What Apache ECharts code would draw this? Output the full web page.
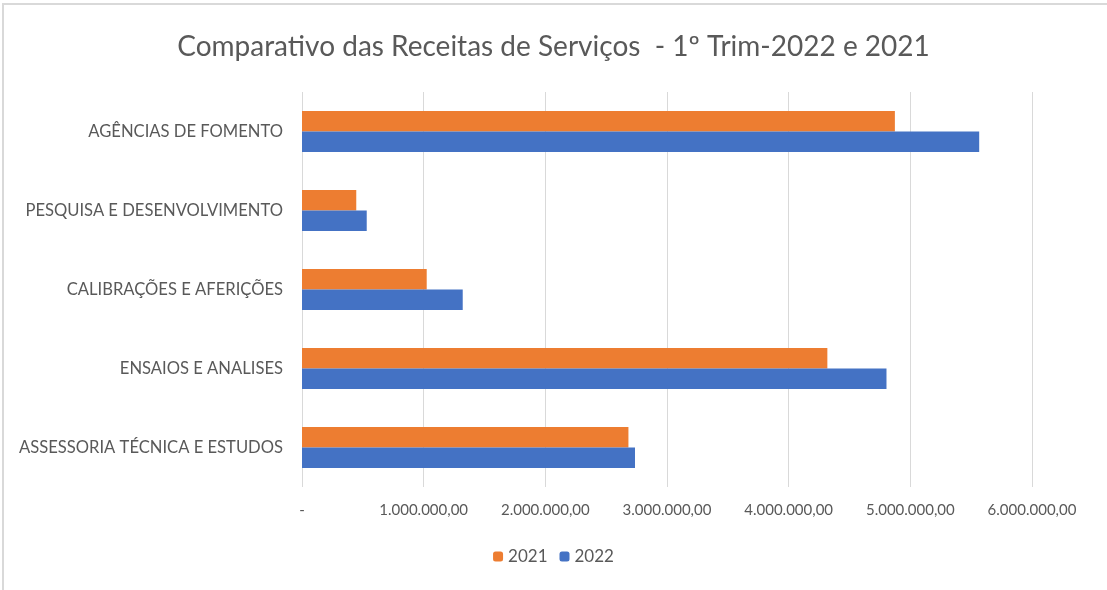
<!DOCTYPE html>
<html>
<head>
<meta charset="utf-8">
<script src="https://cdn.jsdelivr.net/npm/echarts@6/dist/echarts.min.js"></script>
<style>
html, body { margin: 0; padding: 0; background: #fff; }
#chart { width: 1107px; height: 590px; }
</style>
</head>
<body>
<div id="chart"></div>
<script>
var categories = ['ASSESSORIA TÉCNICA E ESTUDOS', 'ENSAIOS E ANALISES', 'CALIBRAÇÕES E AFERIÇÕES', 'PESQUISA E DESENVOLVIMENTO', 'AGÊNCIAS DE FOMENTO'];
var values2021 = [2683000, 4318000, 1025000, 446000, 4873000];
var values2022 = [2737000, 4804000, 1321000, 532000, 5566000];

var fontName = "Lato, sans-serif";

function fmt(v) {
    if (v === 0) return '-';
    var s = String(Math.round(v));
    s = s.replace(/\B(?=(\d{3})+(?!\d))/g, '.');
    return s + ',00';
}

var myChart = echarts.init(document.getElementById('chart'));
var option = {
    title: {
        text: 'Comparativo das Receitas de Serviços  - 1º Trim-2022 e 2021',
        left: 'center',
        top: 28,
        textStyle: {
            color: '#595959',
            fontFamily: fontName,
            fontSize: 28,
            fontWeight: 'normal'
        }
    },
    legend: {
        data: ['2021', '2022'],
        bottom: 20,
        left: 'center',
        itemWidth: 10,
        itemHeight: 10,
        itemGap: 12,
        textStyle: { color: '#595959', fontFamily: fontName, fontSize: 17 }
    },
    grid: {
        left: 302,
        right: 75,
        top: 92,
        height: 395
    },
    xAxis: {
        type: 'value',
        min: 0,
        max: 6000000,
        interval: 1000000,
        axisLine: { show: false },
        axisTick: { show: false },
        splitLine: { lineStyle: { color: '#d9d9d9', width: 1 } },
        axisLabel: {
            formatter: fmt,
            color: '#595959',
            fontFamily: fontName,
            fontSize: 15,
            margin: 16
        }
    },
    yAxis: {
        type: 'category',
        data: categories,
        axisLine: { show: false },
        axisTick: { show: false },
        axisLabel: {
            color: '#595959',
            fontFamily: fontName,
            fontSize: 16.6,
            margin: 19
        }
    },
    series: [
        {
            name: '2021',
            type: 'bar',
            data: values2021,
            barGap: '0%',
            barCategoryGap: '48%',
            itemStyle: { color: '#ED7D31' }
        },
        {
            name: '2022',
            type: 'bar',
            data: values2022,
            barGap: '0%',
            barCategoryGap: '48%',
            itemStyle: { color: '#4472C4' }
        }
    ],
    graphic: [{
        type: 'rect',
        shape: { x: 3, y: 4, width: 1110, height: 600 },
        style: { fill: 'none', stroke: '#d9d9d9', lineWidth: 2 }
    }]
};
myChart.setOption(option);
</script>
</body>
</html>
